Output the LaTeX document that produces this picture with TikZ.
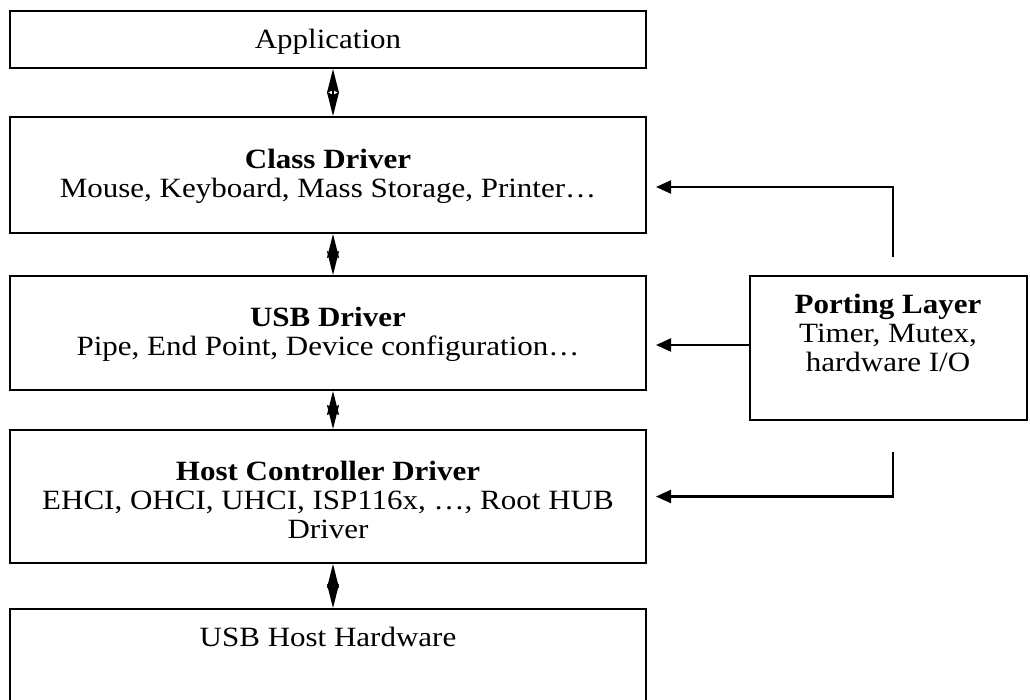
\documentclass[tikz,border=0pt]{standalone}
\usepackage{fontspec}
\setmainfont{Liberation Serif}
\usetikzlibrary{arrows.meta}
\newcommand{\sq}[1]{\scalebox{1}[0.9]{\begin{tabular}{@{}c@{}}#1\end{tabular}}}
\begin{document}
\begin{tikzpicture}[x=1pt,y=-1pt,
  box/.style={draw, line width=2pt, minimum width=636pt, inner sep=0pt},
  lbl/.style={inner sep=0pt, font=\fontsize{31}{32}\selectfont},
  dbl/.style={line width=1.8pt, {Stealth[length=24pt,width=12pt,inset=3pt]}-{Stealth[length=24pt,width=12pt,inset=3pt]}},
  feed/.style={line width=2.2pt, -{Triangle[length=15pt,width=13pt]}}]
\useasboundingbox (0,0) rectangle (1030,700);
\node[box, minimum height=57pt] (app) at (328,39.5) {};
\node[box, minimum height=116pt] (cls) at (328,175) {};
\node[box, minimum height=114pt] (usb) at (328,333) {};
\node[box, minimum height=133pt] (hcd) at (328,496.5) {};
\node[box, minimum height=130pt, anchor=north] (hw) at (328,608) {};
\node[draw, line width=2pt, inner sep=0pt, minimum width=277pt, minimum height=144pt] (port) at (888.5,348) {};
\node[lbl] (appt) at (328,43) {\sq{Application}};
\node[lbl] (clst) at (328,177) {\sq{\textbf{Class Driver}\\Mouse, Keyboard, Mass Storage, Printer…}};
\node[lbl] (usbt) at (328,335) {\sq{\textbf{USB Driver}\\Pipe, End Point, Device configuration…}};
\node[lbl] (hcdt) at (328,504) {\sq{\textbf{Host Controller Driver}\\EHCI, OHCI, UHCI, ISP116x, …, Root HUB\\Driver}};
\node[lbl] (hwt) at (328,641) {\sq{USB Host Hardware}};
\node[lbl] (portt) at (888,337) {\sq{\textbf{Porting Layer}\\Timer, Mutex,\\hardware I/O}};
\draw[dbl] ([xshift=5pt]app.south) -- ([xshift=5pt]cls.north);
\draw[dbl] ([xshift=5pt]cls.south) -- ([xshift=5pt]usb.north);
\draw[dbl] ([xshift=5pt]usb.south) -- ([xshift=5pt]hcd.north);
\draw[dbl] ([xshift=5pt]hcd.south) -- ([xshift=5pt]hw.north);
\coordinate (f1) at (893,257);
\coordinate (f2) at (893,452);
\draw[feed] (f1) |- ([xshift=9pt,yshift=-12pt]cls.east);
\draw[feed] ([yshift=3pt]port.west) -- ([xshift=9pt,yshift=-12pt]usb.east);
\draw[feed] (f2) |- ([xshift=9pt]hcd.east);
\end{tikzpicture}
\end{document}
